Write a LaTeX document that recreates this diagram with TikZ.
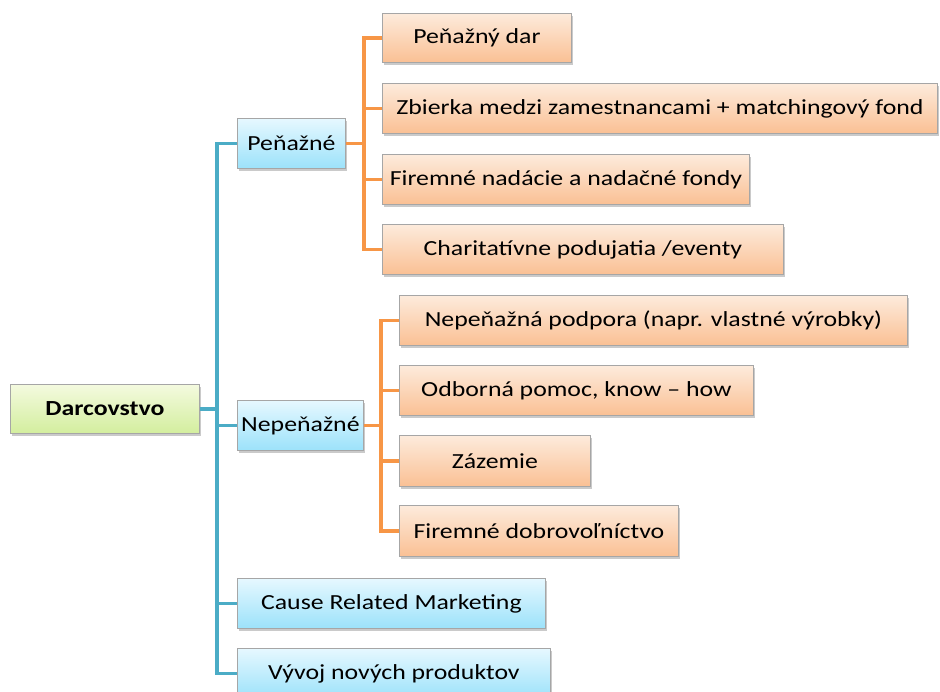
\documentclass[tikz,border=0pt]{standalone}
\usepackage{fontspec}
\setmainfont{Carlito}[FakeStretch=1.2]
\usetikzlibrary{shadows}
\definecolor{tealline}{HTML}{4BACC6}
\definecolor{orangeline}{HTML}{F79646}
\definecolor{bluetop}{HTML}{E6F8FF}
\definecolor{bluebot}{HTML}{9CE2FA}
\definecolor{orangetop}{HTML}{FDEBDC}
\definecolor{orangebot}{HTML}{FAC094}
\definecolor{greentop}{HTML}{F4FADF}
\definecolor{greenbot}{HTML}{D3EE9E}
\tikzset{
  box/.style={draw=black!35, line width=0.8pt, rectangle, anchor=north west,
    inner sep=0pt, font=\fontsize{21.5}{25}\selectfont, text=black,
    drop shadow={shadow xshift=2pt, shadow yshift=-2.5pt, opacity=0.35, fill=black!60}},
  rootbox/.style={box, top color=greentop, bottom color=greenbot, font=\fontsize{21.5}{25}\selectfont\bfseries},
  catbox/.style={box, top color=bluetop, bottom color=bluebot},
  leafbox/.style={box, top color=orangetop, bottom color=orangebot},
  tline/.style={draw=tealline, line width=3.5pt},
  oline/.style={draw=orangeline, line width=3.5pt},
}
\begin{document}
\begin{tikzpicture}[x=1pt,y=-1pt]
\useasboundingbox (0,0) rectangle (940,692);

% root
\node[rootbox, minimum width=189pt, minimum height=49pt] (darc) at (10,384) {Darcovstvo};

% second level
\node[catbox, minimum width=108pt, minimum height=50pt] (pen) at (237,118) {Peňažné};
\node[catbox, minimum width=126pt, minimum height=50pt] (nep) at (237,400) {Nepeňažné};
\node[catbox, minimum width=308pt, minimum height=50pt] (crm) at (237,578) {Cause Related Marketing};
\node[catbox, minimum width=313pt, minimum height=50pt] (vyv) at (237,648) {Vývoj nových produktov};

% financial leaves
\node[leafbox, minimum width=189pt, minimum height=49pt] (p1) at (382,13) {Peňažný dar};
\node[leafbox, minimum width=555pt, minimum height=50pt] (p2) at (382,83) {Zbierka medzi zamestnancami + matchingový fond};
\node[leafbox, minimum width=367pt, minimum height=50pt] (p3) at (382,154) {Firemné nadácie a nadačné fondy};
\node[leafbox, minimum width=401pt, minimum height=50pt] (p4) at (382,224) {Charitatívne podujatia /eventy};

% non-financial leaves
\node[leafbox, minimum width=508pt, minimum height=50pt] (n1) at (399,295) {Nepeňažná podpora (napr. vlastné výrobky)};
\node[leafbox, minimum width=354pt, minimum height=50pt] (n2) at (399,365) {Odborná pomoc, know – how};
\node[leafbox, minimum width=191pt, minimum height=51pt] (n3) at (399,435) {Zázemie};
\node[leafbox, minimum width=279pt, minimum height=51pt] (n4) at (399,505) {Firemné dobrovoľníctvo};

% trunk positions
\coordinate (tx) at (217,0);
\coordinate (ox1) at (364,0);
\coordinate (ox2) at (381,0);

% teal connectors
\draw[tline] (darc.east) -- (darc.east -| tx);
\draw[tline] (pen.west) -- (pen.west -| tx) -- (vyv.west -| tx) -- (vyv.west);
\draw[tline] (nep.west -| tx) -- (nep.west);
\draw[tline] (crm.west -| tx) -- (crm.west);

% orange connectors, financial
\draw[oline] (pen.east) -- (pen.east -| ox1);
\draw[oline] (p1.west) -- (p1.west -| ox1) -- (p4.west -| ox1) -- (p4.west);
\draw[oline] (p2.west -| ox1) -- (p2.west);
\draw[oline] (p3.west -| ox1) -- (p3.west);

% orange connectors, non-financial
\draw[oline] (nep.east) -- (nep.east -| ox2);
\draw[oline] (n1.west) -- (n1.west -| ox2) -- (n4.west -| ox2) -- (n4.west);
\draw[oline] (n2.west -| ox2) -- (n2.west);
\draw[oline] (n3.west -| ox2) -- (n3.west);
\end{tikzpicture}
\end{document}
